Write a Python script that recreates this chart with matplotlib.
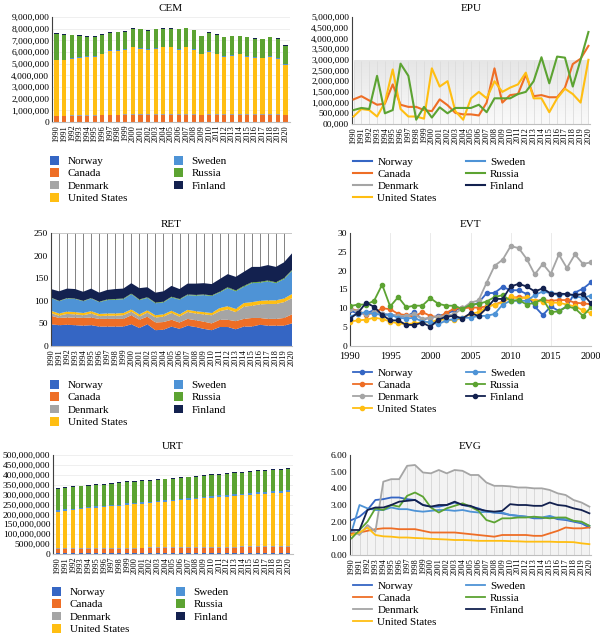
import numpy as np
import matplotlib
matplotlib.use("Agg")
import matplotlib.pyplot as plt
from matplotlib.colors import LinearSegmentedColormap
from matplotlib.ticker import FixedLocator, FixedFormatter, FuncFormatter

plt.rcParams['font.family'] = ['Liberation Serif', 'DejaVu Serif']

years = list(range(1990, 2021))
countries = ['Norway', 'Canada', 'Denmark', 'United States', 'Sweden', 'Russia', 'Finland']
colors = {'Norway': '#3566C4', 'Canada': '#EE6E26', 'Denmark': '#A5A5A5',
          'United States': '#FFBE12', 'Sweden': '#4E93D6', 'Russia': '#5CA332',
          'Finland': '#13214F'}

# CEM (million units)
cem_norway = [0.035] * 31
cem_canada = [0.46, 0.45, 0.47, 0.48, 0.50, 0.51, 0.53, 0.54, 0.55, 0.56, 0.57, 0.56, 0.57, 0.58, 0.58, 0.58,
              0.57, 0.59, 0.58, 0.55, 0.56, 0.57, 0.57, 0.58, 0.58, 0.57, 0.56, 0.56, 0.58, 0.58, 0.53]
cem_denmark = [0.055] * 31
cem_us = [4.75, 4.76, 4.84, 4.93, 5.01, 5.00, 5.18, 5.47, 5.46, 5.55, 5.74, 5.65, 5.54, 5.63, 5.73, 5.73,
          5.54, 5.72, 5.53, 5.16, 5.35, 5.14, 4.94, 5.03, 5.13, 4.94, 4.85, 4.80, 4.93, 4.73, 4.28]
cem_sweden = [0.05] * 31
cem_russia = [2.20, 2.15, 2.00, 1.85, 1.65, 1.65, 1.65, 1.50, 1.55, 1.50, 1.55, 1.60, 1.55, 1.60, 1.55, 1.55,
              1.70, 1.60, 1.60, 1.50, 1.60, 1.65, 1.60, 1.60, 1.50, 1.60, 1.60, 1.60, 1.60, 1.70, 1.60]
cem_finland = [0.05] * 31

# EPU (million units); Norway, Sweden, Denmark, Finland show no data
epu_canada = [1.15, 1.30, 1.10, 0.90, 0.95, 1.85, 0.90, 0.80, 0.80, 0.65, 0.60, 1.15, 0.88, 0.52, 0.45, 0.45,
              0.40, 1.00, 2.60, 1.00, 1.35, 1.40, 2.30, 1.30, 1.35, 1.25, 1.25, 1.70, 2.80, 3.05, 3.65]
epu_russia = [0.65, 0.75, 0.70, 2.25, 0.50, 0.65, 2.82, 2.25, 0.20, 0.80, 0.30, 0.78, 0.50, 0.75, 0.75, 0.75,
              0.90, 0.55, 1.20, 1.20, 1.20, 1.40, 1.50, 2.00, 3.12, 1.90, 3.15, 3.10, 1.75, 3.00, 4.30]
epu_us = [0.35, 0.70, 0.65, 0.35, 1.00, 2.55, 0.70, 0.35, 0.35, 0.25, 2.60, 1.75, 2.00, 0.60, 0.20, 1.20,
          1.50, 1.20, 2.00, 1.50, 1.70, 1.85, 2.40, 1.20, 1.20, 0.55, 1.20, 1.65, 1.40, 1.00, 3.00]

# RET
ret_norway = [48, 46, 47, 46, 45, 46, 43, 43, 43, 43, 48, 40, 48, 35, 36, 43, 38, 45, 42, 38, 35, 42, 42, 37,
              43, 43, 47, 45, 45, 45, 50]
ret_canada = [19, 16, 16, 17, 17, 17, 17, 17, 17, 17, 20, 18, 17, 17, 17, 15, 14, 15, 15, 16, 15, 16, 16, 18,
              17, 19, 15, 15, 15, 17, 20]
ret_denmark = [6, 5, 8, 7, 6, 9, 6, 7, 7, 8, 8, 7, 9, 11, 12, 15, 13, 15, 15, 16, 18, 19, 23, 20, 27, 27, 30,
               33, 33, 35, 36]
ret_us = [5, 5, 5, 5, 5, 5, 5, 5, 5, 5, 5, 5, 5, 5, 5, 5, 5, 5, 5, 5, 5, 7, 7, 7, 8, 8, 8, 8, 8, 8, 9]
ret_sweden = [28, 27, 29, 29, 26, 28, 26, 29.5, 30.5, 30.5, 33.5, 31.5, 27.5, 26.5, 26.5, 29.5, 32.5, 32.5,
              34.5, 37.5, 37.5, 34.5, 40, 39, 36, 42, 40, 42, 38, 43, 51]
ret_russia = [1, 1, 1, 1, 1, 1, 1, 1.5, 1.5, 1.5, 1.5, 1.5, 1.5, 1.5, 1.5, 1.5, 1.5, 1.5, 1.5, 1.5, 1.5, 1.5,
              2, 2, 2, 2, 2, 2, 2, 2, 2]
ret_finland = [19, 21, 21, 21, 20, 21, 20, 21, 22, 22, 23, 25, 22, 22, 23, 24, 22, 24, 25, 25, 25, 28, 29, 30,
               31, 34, 33, 34, 34, 35, 37]

# EVT
evt_norway = [9.5, 8.5, 8.7, 9.5, 8.5, 8.3, 8.0, 7.8, 9.0, 7.0, 7.5, 8.0, 8.5, 9.5, 10.2, 10.5, 11.5, 14.0,
              14.1, 15.7, 14.8, 14.8, 13.8, 10.5, 8.2, 10.5, 9.3, 10.5, 14.2, 15.2, 16.9]
evt_canada = [10.0, 9.3, 8.3, 8.8, 10.0, 9.8, 8.5, 8.2, 7.8, 9.0, 8.0, 7.6, 8.8, 10.0, 10.0, 10.2, 10.2, 10.5,
              11.0, 11.8, 12.8, 13.0, 12.8, 12.0, 12.2, 12.0, 12.2, 12.2, 11.5, 11.3, 11.1]
evt_denmark = [9.8, 9.2, 8.5, 9.0, 8.5, 8.2, 8.0, 8.0, 8.5, 7.2, 7.5, 7.8, 8.0, 8.5, 10.0, 11.5, 12.1, 16.8,
               21.3, 22.9, 26.5, 26.0, 23.1, 19.0, 21.8, 19.2, 24.3, 20.7, 24.3, 21.8, 22.2]
evt_us = [6.5, 6.8, 7.0, 7.5, 7.2, 6.5, 6.0, 5.8, 6.0, 6.3, 6.3, 7.0, 7.0, 6.8, 7.5, 8.5, 9.0, 10.3, 11.0,
          11.5, 13.2, 12.5, 13.0, 12.0, 11.8, 11.5, 11.5, 11.0, 10.5, 9.5, 8.7]
evt_sweden = [7.8, 8.6, 9.0, 8.5, 8.3, 8.3, 7.5, 7.3, 7.5, 6.5, 6.3, 5.8, 6.8, 7.2, 7.5, 7.5, 8.0, 8.0, 8.5,
              11.0, 12.0, 12.0, 12.0, 13.5, 14.5, 14.0, 13.5, 13.8, 13.2, 12.8, 13.4]
evt_russia = [10.6, 11.0, 11.0, 12.0, 16.3, 10.5, 13.0, 10.3, 10.7, 10.7, 12.7, 11.2, 10.7, 10.7, 9.8, 11.0,
              11.2, 11.8, 13.0, 13.5, 12.0, 12.2, 11.0, 11.5, 12.5, 9.0, 9.2, 10.5, 10.0, 8.0, 10.3]
evt_finland = [7.3, 8.8, 11.5, 10.4, 8.3, 6.8, 6.8, 5.6, 5.6, 6.2, 5.1, 7.0, 7.8, 8.0, 7.3, 8.7, 8.0, 10.0,
               12.5, 12.5, 15.8, 16.5, 15.8, 14.5, 15.3, 13.9, 13.9, 13.8, 13.5, 13.8, 11.3]
evt_ticks = [1990, 1995, 2000, 2005, 2010, 2015, 2020]
evt_ticklabels = ['1990', '1995', '2000', '2005', '2010', '2015', '2000']

# URT (million people)
urt_norway = [3.0, 3.0, 3.1, 3.1, 3.1, 3.2, 3.2, 3.2, 3.3, 3.3, 3.4, 3.4, 3.5, 3.5, 3.5, 3.6, 3.6, 3.7, 3.8,
              3.8, 3.9, 4.0, 4.0, 4.1, 4.2, 4.2, 4.3, 4.4, 4.4, 4.5, 4.5]
urt_canada = [21.2, 21.5, 21.9, 22.2, 22.5, 22.8, 23.1, 23.4, 23.7, 23.9, 24.2, 24.5, 24.8, 25.1, 25.4, 25.7,
              26.0, 26.4, 26.8, 27.2, 27.6, 27.9, 28.3, 28.7, 29.0, 29.3, 29.6, 30.0, 30.4, 30.8, 31.2]
urt_denmark = [4.4, 4.4, 4.4, 4.4, 4.4, 4.4, 4.5, 4.5, 4.5, 4.5, 4.6, 4.6, 4.6, 4.6, 4.6, 4.6, 4.7, 4.7, 4.7,
               4.8, 4.8, 4.8, 4.8, 4.9, 4.9, 5.0, 5.0, 5.0, 5.1, 5.1, 5.2]
urt_us = [184, 189, 193, 196, 200, 203, 205, 209, 211, 217, 219, 222, 224, 227, 230, 233, 236, 239, 242, 245,
          248, 251, 253, 256, 258, 262, 264, 266, 268, 269, 272]
urt_sweden = [7.2, 7.2, 7.3, 7.3, 7.4, 7.4, 7.4, 7.4, 7.4, 7.4, 7.5, 7.5, 7.5, 7.5, 7.6, 7.6, 7.7, 7.7, 7.8,
              7.9, 8.0, 8.0, 8.1, 8.2, 8.3, 8.4, 8.5, 8.6, 8.7, 8.8, 8.9]
urt_russia = [108.8, 109.1, 109.0, 108.5, 108.2, 108.0, 107.7, 107.4, 107.1, 106.9, 106.6, 106.2, 105.9,
              105.6, 105.3, 105.0, 104.8, 104.9, 105.0, 105.2, 105.5, 105.8, 106.1, 106.5, 106.8, 107.1,
              107.4, 107.6, 107.7, 107.8, 107.9]
urt_finland = [4.0, 4.0, 4.0, 4.1, 4.1, 4.1, 4.1, 4.2, 4.2, 4.2, 4.2, 4.2, 4.2, 4.3, 4.3, 4.3, 4.3, 4.4, 4.4,
               4.4, 4.4, 4.5, 4.5, 4.5, 4.5, 4.6, 4.6, 4.6, 4.6, 4.7, 4.7]
urt_ticklabels = ['0', '5000,000', '100,000,000', '150,000,000', '200,000,000', '250,000,000',
                  '300,000,000', '350,000,000', '400,000,000', '450,000,000', '500,000,000']

# EVG
evg_norway = [2.10, 2.30, 2.70, 3.30, 3.35, 3.45, 3.45, 3.35, 3.30, 3.00, 2.90, 2.90, 3.00, 3.15, 3.00, 2.90,
              2.80, 2.60, 2.55, 2.50, 2.40, 2.35, 2.30, 2.20, 2.20, 2.30, 2.15, 2.10, 2.00, 1.90, 1.65]
evg_canada = [1.30, 1.35, 1.45, 1.55, 1.60, 1.60, 1.55, 1.55, 1.55, 1.45, 1.35, 1.35, 1.35, 1.35, 1.30, 1.25,
              1.20, 1.15, 1.10, 1.20, 1.20, 1.20, 1.20, 1.15, 1.15, 1.30, 1.45, 1.65, 1.60, 1.60, 1.65]
evg_denmark = [1.50, 1.20, 1.80, 1.40, 4.40, 4.55, 4.55, 5.35, 5.40, 4.95, 4.90, 5.10, 4.90, 5.10, 5.05, 4.80,
               4.80, 4.35, 4.15, 4.15, 4.12, 4.05, 4.05, 4.00, 4.00, 3.90, 3.70, 3.60, 3.30, 3.15, 2.90]
evg_us = [1.20, 1.35, 1.65, 1.20, 1.12, 1.10, 1.05, 1.05, 1.02, 1.00, 0.97, 0.95, 0.93, 0.90, 0.90, 0.88,
          0.85, 0.85, 0.85, 0.85, 0.83, 0.82, 0.80, 0.80, 0.80, 0.80, 0.78, 0.78, 0.77, 0.70, 0.65]
evg_sweden = [1.40, 3.00, 2.80, 2.70, 2.70, 2.85, 2.75, 2.75, 2.65, 2.60, 2.65, 2.70, 2.70, 2.65, 2.70, 2.60,
              2.55, 2.60, 2.55, 2.55, 2.40, 2.35, 2.30, 2.25, 2.25, 2.35, 2.20, 2.15, 2.05, 1.95, 1.75]
evg_russia = [1.00, 1.50, 2.00, 2.80, 2.70, 3.00, 2.90, 3.55, 3.75, 3.50, 2.85, 2.55, 2.80, 2.95, 3.10, 2.90,
              2.65, 2.10, 1.95, 2.20, 2.20, 2.25, 2.25, 2.30, 2.25, 2.20, 2.25, 2.25, 2.05, 2.00, 1.75]
evg_finland = [1.50, 1.50, 2.70, 2.85, 2.85, 3.00, 3.20, 3.25, 3.30, 3.00, 2.90, 3.00, 3.00, 3.20, 3.00, 2.95,
               2.75, 2.65, 2.60, 2.65, 3.05, 3.00, 3.00, 2.95, 2.95, 3.15, 3.00, 2.95, 2.80, 2.70, 2.50]

W, H = 600, 635
fig = plt.figure(figsize=(W / 100, H / 100), dpi=100)


def px_axes(l, t, r, b):
    return fig.add_axes([l / W, 1 - b / H, (r - l) / W, (b - t) / H])


def style(ax, title):
    ax.set_title(title, fontsize=8, pad=4)
    for s in ['top', 'right']:
        ax.spines[s].set_visible(False)
    ax.spines['left'].set_color('#404040')
    ax.spines['bottom'].set_color('#bfbfbf')
    ax.tick_params(axis='y', labelsize=6.8, length=0, pad=2)
    ax.tick_params(axis='x', labelsize=6, length=0, pad=2)


def add_legend(ax, handles, x, y, bars=True):
    leg = ax.legend(handles, countries, loc='upper left', bbox_to_anchor=(x / W, 1 - y / H),
                    bbox_transform=fig.transFigure, ncol=2, frameon=False, fontsize=8,
                    handlelength=0.8 if bars else 1.7, handleheight=0.8 if bars else 0.7,
                    handletextpad=0.8 if bars else 0.5, columnspacing=4.2 if bars else 2.6,
                    labelspacing=0.2, borderaxespad=0, borderpad=0)
    return leg


comma = FuncFormatter(lambda v, p: f'{v:,.0f}')


def year_axis(ax, xs):
    ax.set_xticks(xs)
    ax.set_xticklabels([str(y) for y in years], rotation=90)


# ---- CEM ----
ax = px_axes(52, 17, 290, 122)
style(ax, 'CEM')
cem = [cem_norway, cem_canada, cem_denmark, cem_us, cem_sweden, cem_russia, cem_finland]
x = np.arange(len(years))
bottom = np.zeros(len(years))
handles = []
for name, vals in zip(countries, cem):
    v = np.array(vals) * 1e6
    h = ax.bar(x, v, 0.55, bottom=bottom, color=colors[name], zorder=2)
    handles.append(h)
    bottom += v
ax.set_ylim(0, 9e6)
ax.set_yticks(np.arange(0, 9.01e6, 1e6))
ax.yaxis.set_major_formatter(comma)
ax.set_xlim(-0.6, len(years) - 0.4)
ax.yaxis.grid(True, color='#ececec', lw=0.6, zorder=0)
year_axis(ax, x)
add_legend(ax, handles, 50, 156)

# ---- EPU ----
ax = px_axes(352, 17, 590, 124)
style(ax, 'EPU')
fade = LinearSegmentedColormap.from_list('fade', ['#fafafa', '#e6e6e6'])
grad = np.linspace(0, 1, 100).reshape(-1, 1)
ax.imshow(grad, extent=[1990, 2020, 0, 2.95e6], aspect='auto', cmap=fade,
          origin='lower', zorder=0)
ax.vlines(years, 0, 2.95e6, color='#dcdcdc', lw=0.6, zorder=1)
epu = {'Canada': epu_canada, 'Russia': epu_russia, 'United States': epu_us}
handles = []
for name in countries:
    if name in epu:
        h, = ax.plot(years, np.array(epu[name]) * 1e6, color=colors[name], lw=1.5, zorder=3)
    else:
        h, = ax.plot([], [], color=colors[name], lw=1.5)
    handles.append(h)
ax.set_ylim(0, 5e6)
ax.set_yticks(np.arange(0, 5.01e6, 5e5))
ax.yaxis.set_major_formatter(FuncFormatter(lambda v, p: '00,000' if v == 0 else f'{v:,.0f}'))
ax.set_xlim(1989.8, 2020.2)
year_axis(ax, years)
add_legend(ax, handles, 353, 157, bars=False)

# ---- RET ----
ax = px_axes(51, 233, 292, 346)
style(ax, 'RET')
ret = [ret_norway, ret_canada, ret_denmark, ret_us, ret_sweden, ret_russia, ret_finland]
polys = ax.stackplot(years, *ret, colors=[colors[c] for c in countries], zorder=2)
ax.vlines(years, 0, 250, color='#505050', lw=0.5, zorder=1)
ax.axhline(250, color='#bfbfbf', lw=0.6)
ax.set_ylim(0, 250)
ax.set_yticks(range(0, 251, 50))
ax.set_xlim(1990, 2020)
year_axis(ax, years)
add_legend(ax, polys, 50, 380)

# ---- EVT ----
ax = px_axes(350, 233, 591, 346)
style(ax, 'EVT')
evt = [evt_norway, evt_canada, evt_denmark, evt_us, evt_sweden, evt_russia, evt_finland]
handles = []
for name, vals in zip(countries, evt):
    h, = ax.plot(years, vals, color=colors[name], lw=1.3, marker='o', ms=3, zorder=3)
    handles.append(h)
ax.set_ylim(0, 30)
ax.set_yticks(range(0, 31, 5))
ax.set_xlim(1990, 2020)
ax.xaxis.set_major_locator(FixedLocator(evt_ticks))
ax.xaxis.set_major_formatter(FixedFormatter(evt_ticklabels))
ax.tick_params(axis='x', labelsize=7.5, pad=4)
ax.xaxis.grid(True, color='#e6e6e6', lw=0.6)
add_legend(ax, handles, 353, 368, bars=False)

# ---- URT ----
ax = px_axes(53, 455, 293, 554)
style(ax, 'URT')
urt = [urt_norway, urt_canada, urt_denmark, urt_us, urt_sweden, urt_russia, urt_finland]
bottom = np.zeros(len(years))
handles = []
for name, vals in zip(countries, urt):
    v = np.array(vals) * 1e6
    h = ax.bar(x, v, 0.55, bottom=bottom, color=colors[name], zorder=2)
    handles.append(h)
    bottom += v
ax.set_ylim(0, 5e8)
ax.yaxis.set_major_locator(FixedLocator(np.arange(0, 5.01e8, 5e7)))
ax.yaxis.set_major_formatter(FixedFormatter(urt_ticklabels))
ax.set_xlim(-0.6, len(years) - 0.4)
ax.yaxis.grid(True, color='#ececec', lw=0.6, zorder=0)
year_axis(ax, x)
add_legend(ax, handles, 52, 587)

# ---- EVG ----
ax = px_axes(350, 455, 591, 555)
style(ax, 'EVG')
ax.fill_between(years, 0, evg_denmark, color='#f3f3f3', lw=0, zorder=0)
ax.vlines(years, 0, evg_denmark, color='#d4d4d4', lw=0.6, zorder=1)
evg = [evg_norway, evg_canada, evg_denmark, evg_us, evg_sweden, evg_russia, evg_finland]
handles = []
for name, vals in zip(countries, evg):
    h, = ax.plot(years, vals, color=colors[name], lw=1.3, zorder=3)
    handles.append(h)
ax.set_ylim(0, 6)
ax.set_yticks(range(0, 7))
ax.yaxis.set_major_formatter(FuncFormatter(lambda v, p: f'{v:.2f}'))
ax.set_xlim(1989.8, 2020.2)
year_axis(ax, years)
add_legend(ax, handles, 353, 581, bars=False)

fig.savefig('out.png', dpi=100)
